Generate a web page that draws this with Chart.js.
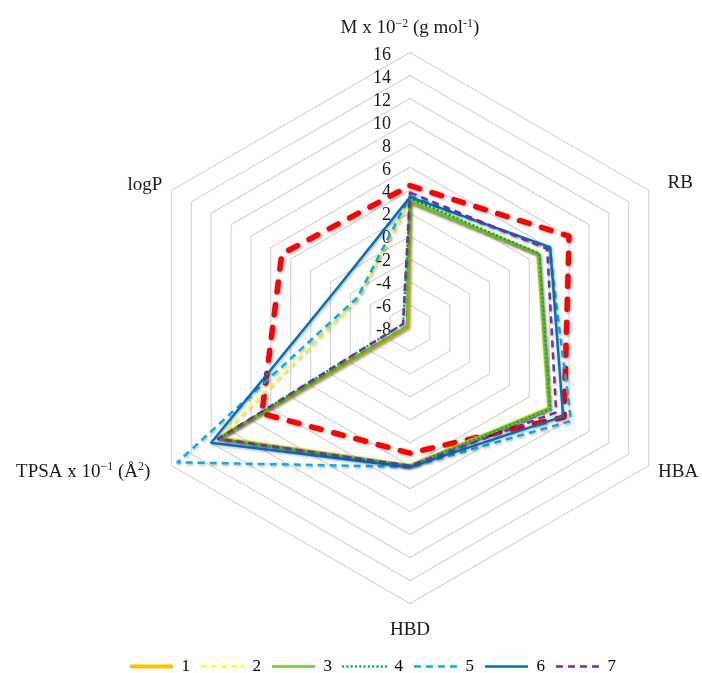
<!DOCTYPE html>
<html><head><meta charset="utf-8">
<script src="https://cdn.jsdelivr.net/npm/chart.js@4.4.1/dist/chart.umd.min.js"></script>
<style>html,body{margin:0;padding:0;background:#fff;}canvas{display:block}</style>
</head><body>
<canvas id="c" width="702" height="673"></canvas>
<script>
// ---------- data ----------
const axes = ['M x 10\u207B\u00B2 (g mol\u207B\u00B9)', 'RB', 'HBA', 'HBD', 'TPSA x 10\u207B\u00B9 (\u00C5\u00B2)', 'logP'];
const axisLabelParts = [
  [['M x 10', 0], ['\u22122', 1], [' (g mol', 0], ['-1', 1], [')', 0]],
  [['RB', 0]],
  [['HBA', 0]],
  [['HBD', 0]],
  [['TPSA x 10', 0], ['\u22121', 1], [' (\u00C5', 0], ['2', 1], [')', 0]],
  [['logP', 0]]
];
const tickValues = [-8, -6, -4, -2, 0, 2, 4, 6, 8, 10, 12, 14, 16];
const seriesNames = ['1', '2', '3', '4', '5', '6', '7'];
const s1 = [3.0, 4.9, 6.0, 4.0, 11.2, -7.8];
const s2 = [3.1, 4.9, 6.1, 4.0, 11.2, -2.8];
const s3 = [3.0, 4.9, 6.0, 4.0, 11.3, -7.7];
const s4 = [3.3, 5.0, 6.1, 4.0, 11.3, -7.3];
const s5 = [3.5, 6.0, 8.2, 4.1, 15.4, -2.7];
const s6 = [3.4, 6.1, 7.4, 4.1, 12.0, -0.8];
const s7 = [3.8, 5.8, 6.7, 4.0, 11.3, -7.3];
const limits = [4.4, 8.0, 7.5, 2.9, 6.9, 4.9];

// ---------- styles ----------
const FONT = 'Liberation Serif';
const seriesStyle = [
  {color: '#FFC000', width: 4,   dash: [],       cap: 'butt'},
  {color: '#FFFF00', width: 2,   dash: [6, 4],   cap: 'butt'},
  {color: '#66C83A', width: 2.5, dash: [],       cap: 'butt'},
  {color: '#00B050', width: 2.5, dash: [0.1, 4.2], cap: 'round'},
  {color: '#00B0F0', width: 2.5, dash: [7, 5],   cap: 'butt'},
  {color: '#0070C0', width: 2.5, dash: [],       cap: 'butt'},
  {color: '#7030A0', width: 2.5, dash: [7, 5],   cap: 'butt'}
];
const seriesData = [s1, s2, s3, s4, s5, s6, s7];
const labelPlace = [
  {align: 'center', dx: 0,   dy: -24.5},
  {align: 'left',   dx: 19,  dy: -7},
  {align: 'left',   dx: 9.5, dy: 6},
  {align: 'center', dx: 0,   dy: 26.5},
  {align: 'right',  dx: -21, dy: 6},
  {align: 'right',  dx: -9,  dy: -5}
];

const datasets = seriesData.map((d, i) => ({
  label: seriesNames[i],
  data: d,
  borderColor: seriesStyle[i].color,
  backgroundColor: 'transparent',
  borderWidth: seriesStyle[i].width,
  borderDash: seriesStyle[i].dash,
  borderCapStyle: seriesStyle[i].cap,
  borderJoinStyle: 'round',
  pointRadius: 0,
  pointHoverRadius: 0,
  fill: false,
  tension: 0,
  clip: false,
  order: 7 - i
}));
datasets.push({
  label: '',
  data: limits,
  borderColor: '#FF0000',
  backgroundColor: 'transparent',
  borderWidth: 5.5,
  borderDash: [10, 13],
  borderCapStyle: 'round',
  borderJoinStyle: 'round',
  pointRadius: 0,
  pointHoverRadius: 0,
  fill: false,
  tension: 0,
  clip: false,
  order: 8
});

function drawRich(ctx, parts, x, y, align) {
  const fonts = ['19px "' + FONT + '"', '12px "' + FONT + '"'];
  let total = 0;
  const widths = parts.map(p => { ctx.font = fonts[p[1]]; const w = ctx.measureText(p[0]).width; total += w; return w; });
  let cx = align === 'center' ? x - total / 2 : (align === 'right' ? x - total : x);
  ctx.textAlign = 'left';
  ctx.textBaseline = 'middle';
  parts.forEach((p, k) => {
    ctx.font = fonts[p[1]];
    ctx.fillText(p[0], cx, p[1] ? y - 4.5 : y);
    cx += widths[k];
  });
}

const textPlugin = {
  id: 'textPlugin',
  beforeDatasetsDraw(chart) {
    const s = chart.scales.r, ctx = chart.ctx;
    ctx.save();
    ctx.fillStyle = '#1a1a1a';
    ctx.font = '18px "' + FONT + '"';
    ctx.textAlign = 'right';
    ctx.textBaseline = 'middle';
    s.ticks.forEach(t => {
      const d = s.getDistanceFromCenterForValue(t.value);
      ctx.fillText(String(t.value), s.xCenter - 19, s.yCenter - d + 2.5);
    });
    ctx.restore();
    // soft shadow under the series lines
    ctx.save();
    ctx.shadowColor = 'rgba(0,0,0,0.28)';
    ctx.shadowBlur = 2.5;
    ctx.shadowOffsetX = 1;
    ctx.shadowOffsetY = 1.5;
  },
  afterDatasetsDraw(chart) {
    chart.ctx.restore();
  },
  afterDraw(chart) {
    const s = chart.scales.r, ctx = chart.ctx;
    ctx.save();
    ctx.fillStyle = '#1a1a1a';
    axisLabelParts.forEach((parts, i) => {
      const p = s.getPointPosition(i, s.drawingArea);
      const pl = labelPlace[i];
      drawRich(ctx, parts, p.x + pl.dx, p.y + pl.dy, pl.align);
    });
    ctx.restore();
  }
};

new Chart(document.getElementById('c'), {
  type: 'radar',
  data: {labels: axes, datasets: datasets},
  options: {
    responsive: false,
    animation: false,
    layout: {padding: {left: 44, right: 0, top: 0, bottom: -12}},
    plugins: {
      tooltip: {enabled: false},
      legend: {
        position: 'bottom',
        labels: {
          usePointStyle: true,
          pointStyle: 'line',
          pointStyleWidth: 43,
          padding: 11,
          color: '#000',
          font: {size: 17, family: FONT},
          generateLabels: (chart) => chart.data.datasets.map((ds, i) => ({
            text: ds.label,
            strokeStyle: ds.borderColor,
            fillStyle: ds.borderColor,
            lineWidth: ds.borderWidth,
            lineDash: ds.borderDash || [],
            lineCap: ds.borderCapStyle || 'butt',
            lineJoin: 'round',
            pointStyle: 'line',
            hidden: false,
            fontColor: '#000',
            datasetIndex: i
          })).filter(it => it.text !== '')
        }
      }
    },
    scales: {
      r: {
        min: tickValues[0],
        max: tickValues[tickValues.length - 1],
        ticks: {display: false, stepSize: tickValues[1] - tickValues[0]},
        grid: {color: '#D6D6D6', lineWidth: 1.2, circular: false},
        angleLines: {display: false},
        pointLabels: {display: false},
        afterFit: (sc) => { sc.xCenter = 410; sc.yCenter = 328; sc.drawingArea = 275.5; }
      }
    }
  },
  plugins: [textPlugin]
});
</script>
</body></html>
